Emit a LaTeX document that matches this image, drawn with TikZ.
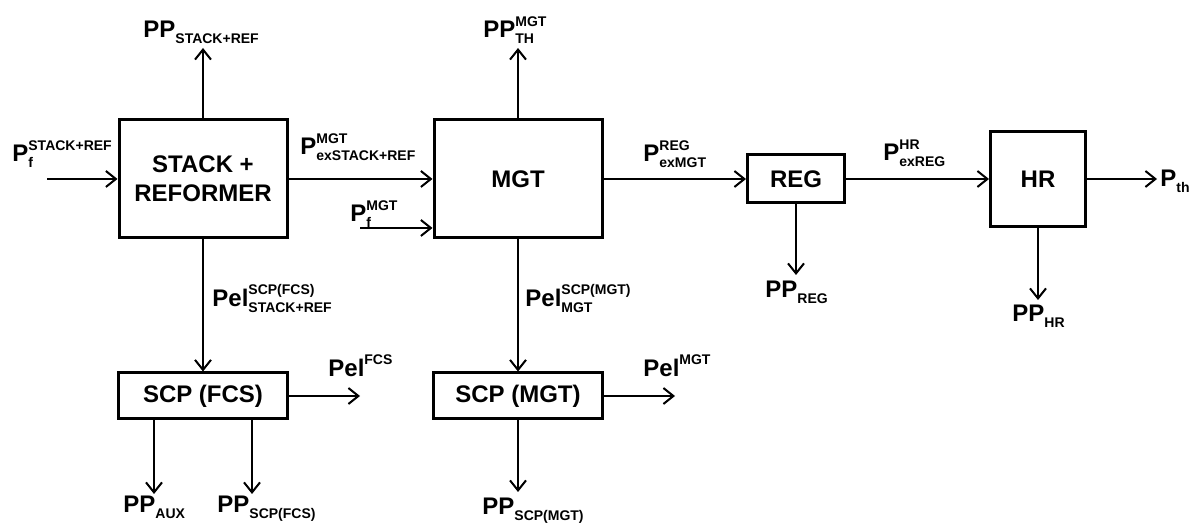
\documentclass[tikz,border=0pt]{standalone}
\usepackage{fontspec}
\setmainfont{Liberation Sans}
\usepackage{amsmath}
\usetikzlibrary{arrows.meta}
\DeclareMathSizes{12}{12}{7}{5}
\newcommand{\bigfont}{\fontsize{12}{14.5}\selectfont\bfseries}
\newcommand{\lab}[3]{$\text{#1}^{\text{#2}}_{\text{#3}}$}

\begin{document}
\begin{tikzpicture}[x=0.5pt, y=-0.5pt,
    blockbox/.style={draw, line width=1.5pt, font=\bigfont, align=center, inner sep=0pt},
    flow/.style={line width=1pt, -{Straight Barb[length=5pt,width=8pt,line width=1pt]}},
    lbl/.style={font=\bigfont, inner sep=0pt, anchor=base west}]
        \useasboundingbox (0,0) rectangle (1195,523);
        % blocks
        \node[blockbox, minimum width=84pt, minimum height=59pt] (stack) at (203,179) {STACK +\\REFORMER};
        \node[blockbox, minimum width=84pt, minimum height=59pt] (mgt) at (518,179) {MGT};
        \node[blockbox, minimum width=48.5pt, minimum height=24pt] (reg) at (796,179) {REG};
        \node[blockbox, minimum width=47.5pt, minimum height=47.5pt] (hr) at (1038,179) {HR};
        \node[blockbox, minimum width=84.5pt, minimum height=23pt] (scpfcs) at (203,396) {SCP (FCS)};
        \node[blockbox, minimum width=84.5pt, minimum height=23pt] (scpmgt) at (518,396) {SCP (MGT)};
        % free ends
        \coordinate (inp) at (47,179);
        \coordinate (pfin) at (360,228);
        \coordinate (ppsrend) at (203,48);
        \coordinate (ppthend) at (518,48);
        \coordinate (pthend) at (1157,179);
        \coordinate (ppregend) at (796,275);
        \coordinate (pphrend) at (1038,300);
        \coordinate (pelfcsend) at (360,396);
        \coordinate (pelmgtend) at (675,396);
        \coordinate (ppauxend) at (154,494);
        \coordinate (ppscpfcsend) at (252,494);
        \coordinate (ppscpmgtend) at (518,492);
        % labels
        \node[lbl] (pfsr) at (12,162) {\lab{P}{STACK+REF}{f}};
        \node[lbl] (pexsr) at (300,155) {\lab{P}{MGT}{exSTACK+REF}};
        \node[lbl] (pfmgt) at (350,222) {\lab{P}{MGT}{f}};
        \node[lbl] (pexmgt) at (643,162) {\lab{P}{REG}{exMGT}};
        \node[lbl] (pexreg) at (883,161) {\lab{P}{HR}{exREG}};
        \node[lbl] (pth) at (1160,187) {\lab{P}{}{th}};
        \node[lbl] (ppsr) at (143,38) {\lab{PP}{}{STACK+REF}};
        \node[lbl] (ppth) at (483,38) {\lab{PP}{MGT}{TH}};
        \node[lbl] (pelsr) at (212,307) {\lab{Pel}{SCP(FCS)}{STACK+REF}};
        \node[lbl] (pelmgtin) at (525,307) {\lab{Pel}{SCP(MGT)}{MGT}};
        \node[lbl] (pelfcs) at (328,377) {\lab{Pel}{FCS}{}};
        \node[lbl] (pelmgt) at (643,377) {\lab{Pel}{MGT}{}};
        \node[lbl] (ppreg) at (765,298) {\lab{PP}{}{REG}};
        \node[lbl] (pphr) at (1012,322) {\lab{PP}{}{HR}};
        \node[lbl] (ppaux) at (123,513) {\lab{PP}{}{AUX}};
        \node[lbl] (ppscpfcs) at (217,513) {\lab{PP}{}{SCP(FCS)}};
        \node[lbl] (ppscpmgt) at (482,515) {\lab{PP}{}{SCP(MGT)}};
        % connectors
        \draw[flow] (inp) -- (stack.west);
        \draw[flow] (stack.north) -- (ppsrend);
        \draw[flow] (stack.east) -- (mgt.west);
        \draw[flow] (pfin) -- (pfin -| mgt.west);
        \draw[flow] (mgt.north) -- (ppthend);
        \draw[flow] (mgt.east) -- (reg.west);
        \draw[flow] (reg.east) -- (hr.west);
        \draw[flow] (hr.east) -- (pthend);
        \draw[flow] (reg.south) -- (ppregend);
        \draw[flow] (hr.south) -- (pphrend);
        \draw[flow] (stack.south) -- (scpfcs.north);
        \draw[flow] (mgt.south) -- (scpmgt.north);
        \draw[flow] (scpfcs.east) -- (pelfcsend);
        \draw[flow] (scpmgt.east) -- (pelmgtend);
        \draw[flow] (ppauxend |- scpfcs.south) -- (ppauxend);
        \draw[flow] (ppscpfcsend |- scpfcs.south) -- (ppscpfcsend);
        \draw[flow] (scpmgt.south) -- (ppscpmgtend);
      \end{tikzpicture}
\end{document}
